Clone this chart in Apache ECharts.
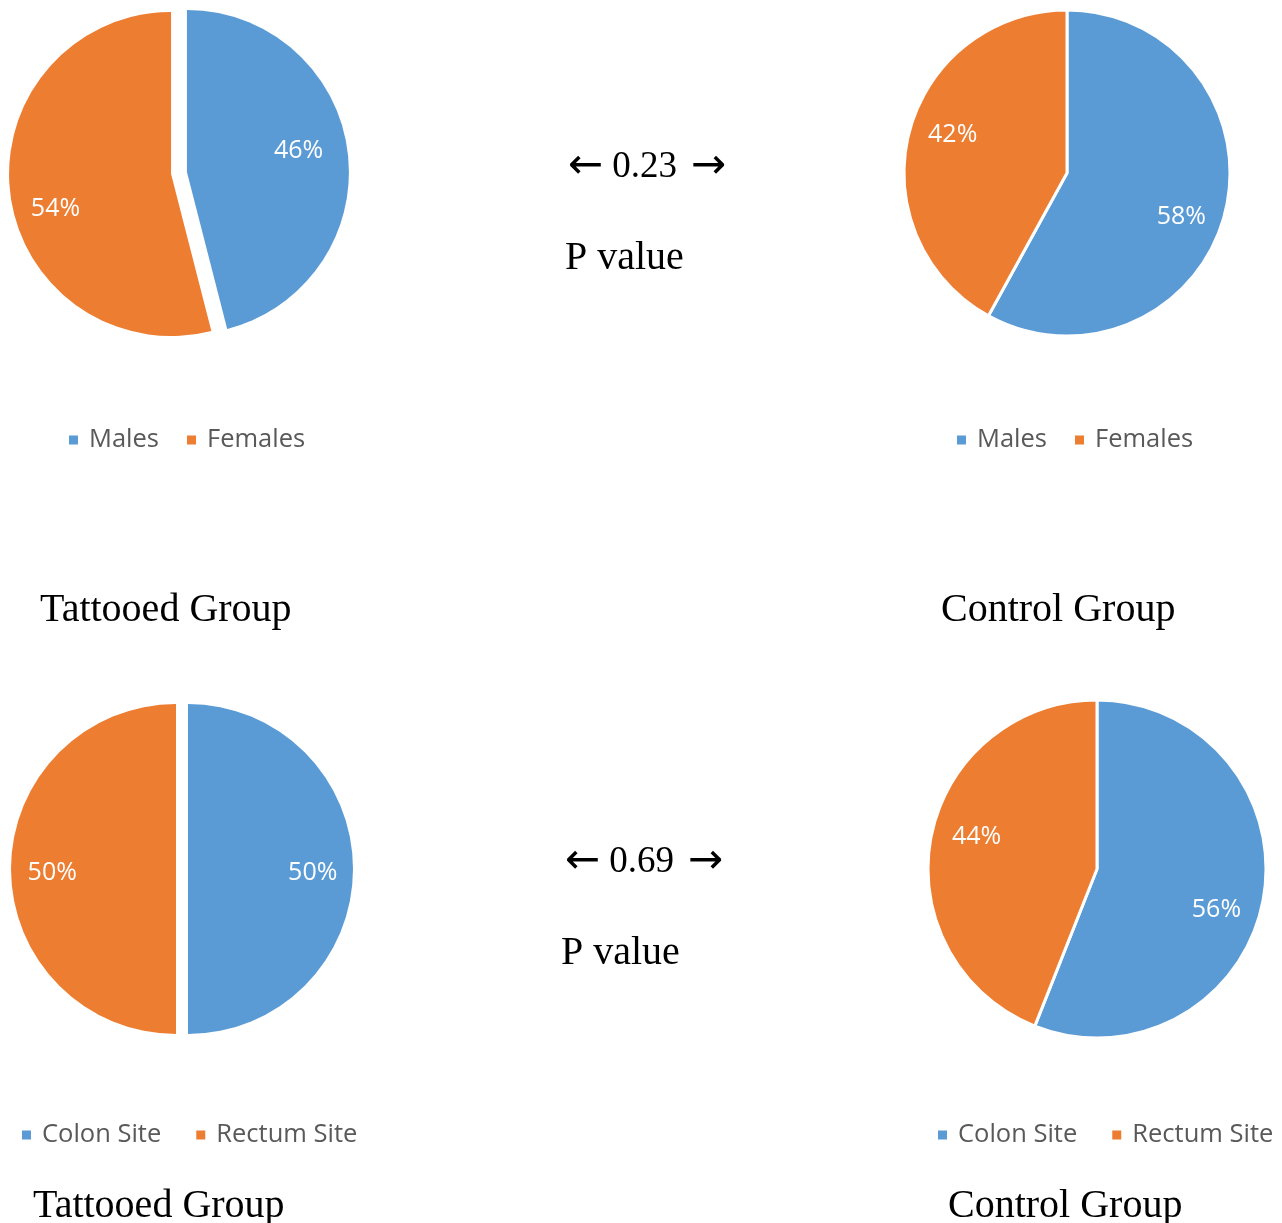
<!DOCTYPE html>
<html>
<head>
<meta charset="utf-8">
<title>Tattooed vs Control Group</title>
<script src="https://cdn.jsdelivr.net/npm/echarts@6/dist/echarts.min.js"></script>
<style>
  html, body { margin: 0; padding: 0; background: #ffffff; }
  #chart { width: 1282px; height: 1223px; }
</style>
</head>
<body>
<div id="chart"></div>
<script>
// Categories
const sexLabels = ['Males', 'Females'];
const siteLabels = ['Colon Site', 'Rectum Site'];

// Percentages per group
const tattooedSex = [46, 54];
const controlSex = [58, 42];
const tattooedSite = [50, 50];
const controlSite = [56, 44];

// P values between the groups
const pValues = ['0.23', '0.69'];

const BLUE = '#5B9BD5';
const ORANGE = '#ED7D31';
const SANS = '"Open Sans", "Noto Sans", sans-serif';
const SERIF = '"Liberation Serif", "DejaVu Serif", serif';

function toData(names, values, exploded) {
  return names.map((n, i) => ({
    name: n,
    value: values[i],
    selected: exploded,
    itemStyle: { color: i === 0 ? BLUE : ORANGE }
  }));
}

// A pie is drawn as a solid series plus a transparent ring that carries the
// percentage labels, so the labels sit at about three quarters of the radius.
// Labels use a best-fit placement, so each one gets a small nudge.
function pie(names, values, center, r, exploded, offset, nudges) {
  const common = {
    type: 'pie',
    center: center,
    startAngle: 90,
    clockwise: true,
    animation: false,
    silent: true,
    emphasis: { disabled: true }
  };
  return [
    Object.assign({}, common, {
      radius: [0, r],
      selectedMode: exploded ? 'multiple' : false,
      selectedOffset: offset,
      data: toData(names, values, exploded),
      itemStyle: { borderColor: '#ffffff', borderWidth: exploded ? 0 : 3 },
      label: { show: false },
      labelLine: { show: false }
    }),
    Object.assign({}, common, {
      radius: [r * 0.5, r],
      selectedMode: false,
      data: toData(names, values, false).map((d, i) => Object.assign(d, {
        itemStyle: { color: 'rgba(0,0,0,0)' },
        label: { offset: nudges[i] }
      })),
      itemStyle: { borderWidth: 0 },
      label: {
        show: true,
        position: 'inside',
        formatter: '{c}%',
        color: '#ffffff',
        fontFamily: SANS,
        fontSize: 25
      },
      labelLine: { show: false }
    })
  ];
}

function legend(names, left, top, gap) {
  return {
    data: names,
    left: left,
    top: top,
    orient: 'horizontal',
    icon: 'rect',
    itemWidth: 9,
    itemHeight: 9,
    itemGap: gap,
    selectedMode: false,
    textStyle: {
      color: '#595959',
      fontFamily: SANS,
      fontSize: 25.5,
      padding: [0, 0, 0, 6]
    }
  };
}

function caption(text, left, top, size) {
  return {
    text: text,
    left: left,
    top: top,
    padding: 0,
    textStyle: {
      fontFamily: SERIF,
      fontWeight: 'normal',
      fontSize: size || 40,
      color: '#000000',
      rich: {
        la: {
          fontFamily: '"DejaVu Sans", sans-serif',
          fontSize: 42,
          color: '#000000',
          padding: [0, 9, 0, 0]
        },
        ra: {
          fontFamily: '"DejaVu Sans", sans-serif',
          fontSize: 42,
          color: '#000000',
          padding: [0, 0, 0, 14]
        }
      }
    }
  };
}

function pLine(p) {
  return '{la|\u2190}' + p + '{ra|\u2192}';
}

const option = {
  backgroundColor: '#ffffff',
  animation: false,
  title: [
    caption('Tattooed Group', 40, 590),
    caption('Control Group', 941, 590),
    caption('Tattooed Group', 33, 1186),
    caption('Control Group', 948, 1186),
    caption(pLine(pValues[0]), 568, 146, 37),
    caption('P value', 565, 238),
    caption(pLine(pValues[1]), 565, 841, 37),
    caption('P value', 561, 933)
  ],
  legend: [
    legend(sexLabels, 64, 422, 28),
    legend(sexLabels, 952, 422, 28),
    legend(siteLabels, 17, 1117, 35),
    legend(siteLabels, 933, 1117, 35)
  ],
  series: [].concat(
    pie(sexLabels, tattooedSex, [179, 173], 162, true, 8, [[-4, -7], [0, 20]]),
    pie(sexLabels, controlSex, [1067, 173], 163, false, 0, [[-7, 13], [7, -7]]),
    pie(siteLabels, tattooedSite, [182, 869], 165, true, 6, [[4, 4], [-3, 4]]),
    pie(siteLabels, controlSite, [1097, 869], 169, false, 0, [[-8, 17], [7, -8]])
  )
};

const chart = echarts.init(document.getElementById('chart'), null, { renderer: 'canvas' });
chart.setOption(option);
</script>
</body>
</html>
